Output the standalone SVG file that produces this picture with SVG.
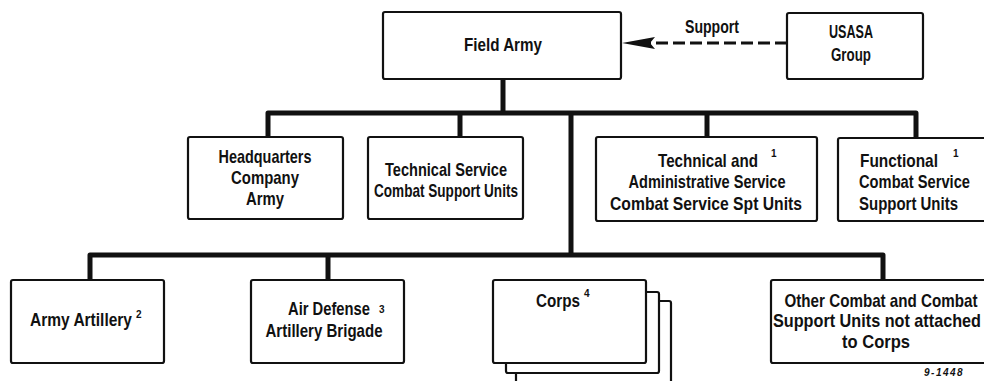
<svg xmlns="http://www.w3.org/2000/svg" width="984" height="381" viewBox="0 0 984 381">
<defs>
<style>
.box{fill:#fff;stroke:#111;stroke-width:2.2}
.t{font-family:"Liberation Sans",Arial,sans-serif;font-weight:bold;font-size:19px;fill:#111}
.c{text-anchor:middle}
.sup{font-family:"Liberation Sans",Arial,sans-serif;font-weight:bold;font-size:10px;fill:#111}
.conn{fill:none;stroke:#111;stroke-width:5;stroke-linejoin:round}
.dash{fill:none;stroke:#111;stroke-width:3;stroke-dasharray:12 5}
</style>
</defs>
<rect width="984" height="381" fill="#fff"/>

<g id="connectors">
<path class="conn" d="M503,79 V113"/>
<path class="conn" d="M268,137 V113 H916 V138"/>
<path class="conn" d="M460,113 V137"/>
<path class="conn" d="M707,113 V137"/>
<path class="conn" d="M571,113 V255"/>
<path class="conn" d="M90,280 V255 H883 V280"/>
<path class="conn" d="M328,255 V280"/>
<path class="dash" d="M787,43 H650"/>
<path d="M622,43 L655,37 L650,43 L655,49 Z" fill="#111"/>
</g>

<g id="field-army">
<rect class="box" x="383" y="12" width="238" height="67" rx="2"/>
<text class="t c" x="503" y="51" textLength="78" lengthAdjust="spacingAndGlyphs">Field Army</text>
</g>

<g id="support-label">
<text class="t c" x="712" y="33" textLength="54" lengthAdjust="spacingAndGlyphs">Support</text>
</g>

<g id="usasa-group">
<rect class="box" x="787" y="13" width="136" height="66" rx="2"/>
<text class="t c" x="851" y="38" textLength="44" lengthAdjust="spacingAndGlyphs">USASA</text>
<text class="t c" x="851" y="61" textLength="40" lengthAdjust="spacingAndGlyphs">Group</text>
</g>

<g id="hq-company">
<rect class="box" x="188" y="137" width="155" height="82" rx="2"/>
<text class="t c" x="265" y="163" textLength="93" lengthAdjust="spacingAndGlyphs">Headquarters</text>
<text class="t c" x="265" y="184" textLength="68" lengthAdjust="spacingAndGlyphs">Company</text>
<text class="t c" x="265" y="205" textLength="38" lengthAdjust="spacingAndGlyphs">Army</text>
</g>

<g id="tech-service">
<rect class="box" x="368" y="137" width="155" height="82" rx="2"/>
<text class="t c" x="446" y="176" textLength="122" lengthAdjust="spacingAndGlyphs">Technical Service</text>
<text class="t c" x="446" y="197" textLength="144" lengthAdjust="spacingAndGlyphs">Combat Support Units</text>
</g>

<g id="tech-admin">
<rect class="box" x="596" y="137" width="221" height="84" rx="2"/>
<text class="t c" x="708" y="167" textLength="100" lengthAdjust="spacingAndGlyphs">Technical and</text>
<text class="sup" x="771" y="157">1</text>
<text class="t c" x="707" y="188" textLength="157" lengthAdjust="spacingAndGlyphs">Administrative Service</text>
<text class="t c" x="706" y="210" textLength="192" lengthAdjust="spacingAndGlyphs">Combat Service Spt Units</text>
</g>

<g id="functional">
<rect class="box" x="838" y="138" width="160" height="83" rx="2"/>
<text class="t" x="860" y="167" textLength="78" lengthAdjust="spacingAndGlyphs">Functional</text>
<text class="sup" x="953" y="157">1</text>
<text class="t" x="859" y="188" textLength="111" lengthAdjust="spacingAndGlyphs">Combat Service</text>
<text class="t" x="859" y="210" textLength="99" lengthAdjust="spacingAndGlyphs">Support Units</text>
</g>

<g id="army-artillery">
<rect class="box" x="11" y="280" width="153" height="83" rx="2"/>
<text class="t" x="30" y="326" textLength="102" lengthAdjust="spacingAndGlyphs">Army Artillery</text>
<text class="sup" x="136" y="318">2</text>
</g>

<g id="air-defense">
<rect class="box" x="251" y="280" width="153" height="83" rx="2"/>
<text class="t" x="288" y="315" textLength="82" lengthAdjust="spacingAndGlyphs">Air Defense</text>
<text class="sup" x="379" y="313">3</text>
<text class="t c" x="324" y="337" textLength="117" lengthAdjust="spacingAndGlyphs">Artillery Brigade</text>
</g>

<g id="corps">
<rect class="box" x="516" y="301" width="155" height="100" rx="2"/>
<rect class="box" x="506" y="292" width="153" height="81" rx="2"/>
<rect class="box" x="493" y="280" width="153" height="83" rx="2"/>
<text class="t" x="536" y="307" textLength="44" lengthAdjust="spacingAndGlyphs">Corps</text>
<text class="sup" x="584" y="297">4</text>
</g>

<g id="other-combat">
<rect class="box" x="771" y="280" width="230" height="83" rx="2"/>
<text class="t c" x="881" y="307" textLength="193" lengthAdjust="spacingAndGlyphs">Other Combat and Combat</text>
<text class="t c" x="877" y="327" textLength="208" lengthAdjust="spacingAndGlyphs">Support Units not attached</text>
<text class="t c" x="876" y="348" textLength="68" lengthAdjust="spacingAndGlyphs">to Corps</text>
</g>

<g id="figure-number">
<text x="924" y="376" style="font-family:'Liberation Sans',sans-serif;font-weight:bold;font-style:italic;font-size:10px;fill:#111;letter-spacing:1.5px">9-1448</text>
</g>
</svg>
